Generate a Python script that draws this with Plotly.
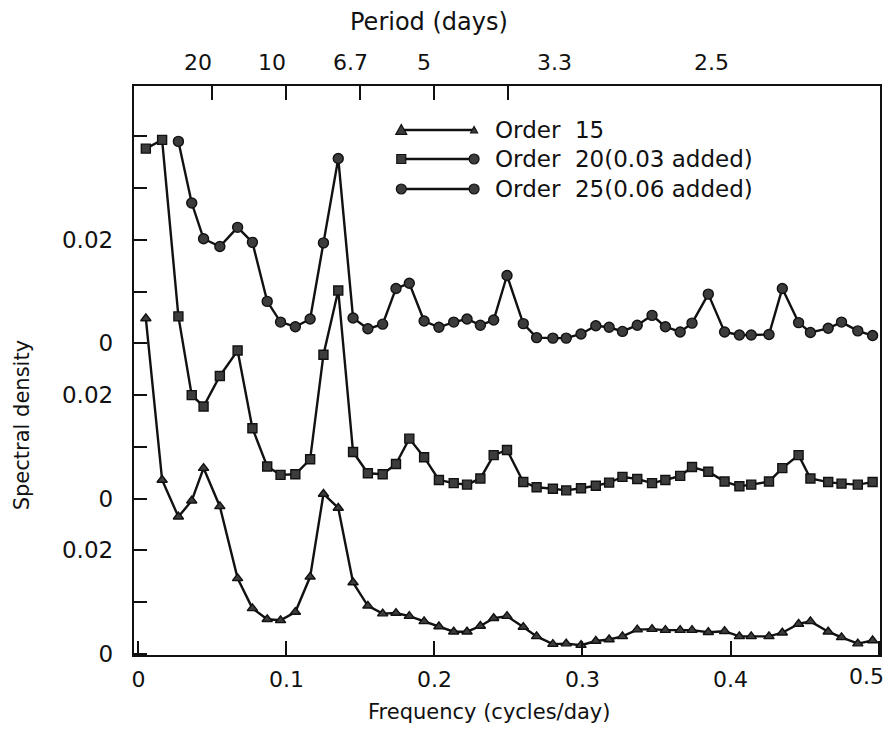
import plotly.graph_objects as go

# ---- data ----
freq = [0.005, 0.016, 0.027, 0.036, 0.044, 0.055, 0.067, 0.077, 0.087, 0.096,
        0.106, 0.116, 0.125, 0.135, 0.145, 0.155, 0.165, 0.174, 0.183, 0.193,
        0.203, 0.213, 0.222, 0.231, 0.240, 0.249, 0.260, 0.269, 0.280, 0.289,
        0.299, 0.309, 0.318, 0.327, 0.337, 0.347, 0.356, 0.366, 0.374, 0.385,
        0.396, 0.406, 0.414, 0.426, 0.435, 0.446, 0.454, 0.466, 0.475, 0.486,
        0.496]

order15 = [0.0648, 0.0336, 0.0265, 0.0296, 0.0359, 0.0285, 0.0146, 0.0088, 0.0067, 0.0065,
           0.0081, 0.0149, 0.0309, 0.0282, 0.0138, 0.0093, 0.0078, 0.0079, 0.0073, 0.0063,
           0.0053, 0.0043, 0.0043, 0.0054, 0.0069, 0.0073, 0.0052, 0.0034, 0.0019, 0.0020,
           0.0017, 0.0025, 0.0028, 0.0034, 0.0047, 0.0048, 0.0046, 0.0046, 0.0046, 0.0042,
           0.0044, 0.0034, 0.0034, 0.0034, 0.0041, 0.0058, 0.0063, 0.0043, 0.0032, 0.0020,
           0.0026]

order20 = [0.0676, 0.0693, 0.0352, 0.0200, 0.0178, 0.0237, 0.0286, 0.0136, 0.0062, 0.0046,
           0.0047, 0.0076, 0.0278, 0.0402, 0.0090, 0.0049, 0.0047, 0.0067, 0.0116, 0.0080,
           0.0036, 0.0030, 0.0027, 0.0039, 0.0084, 0.0094, 0.0032, 0.0022, 0.0019, 0.0016,
           0.0020, 0.0025, 0.0031, 0.0042, 0.0038, 0.0030, 0.0036, 0.0044, 0.0061, 0.0052,
           0.0033, 0.0024, 0.0027, 0.0033, 0.0059, 0.0084, 0.0039, 0.0032, 0.0029, 0.0027,
           0.0032]

# order 25 starts at the third frequency
order25 = [0.0390, 0.0271, 0.0202, 0.0187, 0.0224, 0.0195, 0.0081, 0.0041, 0.0032, 0.0047,
           0.0194, 0.0357, 0.0049, 0.0028, 0.0037, 0.0106, 0.0116, 0.0043, 0.0031, 0.0041,
           0.0047, 0.0035, 0.0045, 0.0131, 0.0038, 0.0011, 0.0010, 0.0010, 0.0018, 0.0034,
           0.0031, 0.0023, 0.0035, 0.0054, 0.0032, 0.0022, 0.0039, 0.0095, 0.0022, 0.0016,
           0.0016, 0.0017, 0.0106, 0.0040, 0.0021, 0.0029, 0.0041, 0.0024, 0.0015]

offset20 = 0.03
offset25 = 0.06

series_names = ["Order\u00a0\u00a015", "Order\u00a0\u00a020(0.03 added)", "Order\u00a0\u00a025(0.06 added)"]

x_tickvals = [0, 0.1, 0.2, 0.3, 0.4, 0.5]
x_ticktext = ["0", "0.1", "0.2", "0.3", "0.4", ""]
x_last_label = "0.5"
y_tickvals = [0, 0.01, 0.02, 0.03, 0.04, 0.05, 0.06, 0.07, 0.08, 0.09, 0.10]
y_ticktext = ["0", "", "0.02", "0", "", "0.02", "0", "", "0.02", "", ""]

period_tick_freq = [0.05, 0.1, 0.15, 0.2, 0.25]
period_labels = ["20", "10", "6.7", "5", "3.3", "2.5"]
period_label_pos = [0.040, 0.090, 0.143, 0.193, 0.281, 0.387]

# ---- style ----
FONT = "DejaVu Sans"
INK = "#111111"
L, R, T, B = 134, 882, 86, 655
W, H = 894, 729


def px(x):
    return (x - L) / (R - L)


def py(y):
    return (B - y) / (B - T)


fig = go.Figure()

mk = dict(color="#3c3c3c", line=dict(color=INK, width=1.4))

fig.add_trace(go.Scatter(
    x=freq, y=order15, mode="lines+markers", name=series_names[0],
    line=dict(color=INK, width=2.4),
    marker=dict(symbol="triangle-up", size=9, **mk), showlegend=False))

fig.add_trace(go.Scatter(
    x=freq, y=[v + offset20 for v in order20], mode="lines+markers", name=series_names[1],
    line=dict(color=INK, width=2.4),
    marker=dict(symbol="square", size=9, **mk), showlegend=False))

fig.add_trace(go.Scatter(
    x=freq[2:], y=[v + offset25 for v in order25], mode="lines+markers", name=series_names[2],
    xaxis="x2",
    line=dict(color=INK, width=2.4),
    marker=dict(symbol="circle", size=10, **mk), showlegend=False))

shapes = []
annotations = []

# custom legend (line sample with end markers)
leg_rows = [130, 159, 189]
leg_x0, leg_x1, leg_text = 402, 475, 494
for i, yy in enumerate(leg_rows):
    shapes.append(dict(type="line", xref="paper", yref="paper",
                       x0=px(leg_x0), x1=px(leg_x1), y0=py(yy), y1=py(yy),
                       line=dict(color=INK, width=2.4)))
    annotations.append(dict(text=series_names[i], xref="paper", yref="paper",
                            x=px(leg_text), y=py(yy), xanchor="left", yanchor="middle",
                            showarrow=False, font=dict(family=FONT, size=23, color=INK)))


def tri(cx, cy, s):
    return dict(type="path", xref="paper", yref="paper",
                path=f"M {px(cx - s)},{py(cy + s * 0.8)} L {px(cx + s)},{py(cy + s * 0.8)} "
                     f"L {px(cx)},{py(cy - s)} Z",
                fillcolor="#3c3c3c", line=dict(color=INK, width=1.2))


def circ(cx, cy, r):
    return dict(type="circle", xref="paper", yref="paper",
                x0=px(cx - r), x1=px(cx + r), y0=py(cy + r), y1=py(cy - r),
                fillcolor="#3c3c3c", line=dict(color=INK, width=1.2))


def sq(cx, cy, r):
    return dict(type="rect", xref="paper", yref="paper",
                x0=px(cx - r), x1=px(cx + r), y0=py(cy + r), y1=py(cy - r),
                fillcolor="#3c3c3c", line=dict(color=INK, width=1.2))


shapes += [tri(leg_x0, leg_rows[0], 5.5), tri(leg_x1, leg_rows[0], 3.5),
           sq(leg_x0, leg_rows[1], 4.5), circ(leg_x1, leg_rows[1], 5),
           circ(leg_x0, leg_rows[2], 5), circ(leg_x1, leg_rows[2], 5)]

# period (top) labels
for lab, pos in zip(period_labels, period_label_pos):
    annotations.append(dict(text=lab, xref="x", yref="paper", x=pos, y=py(62),
                            xanchor="center", yanchor="middle", showarrow=False,
                            font=dict(family=FONT, size=22, color=INK)))

# last bottom tick label (sits slightly inside the right edge)
annotations.append(dict(text=x_last_label, xref="paper", yref="paper",
                        x=px(868), y=py(676), xanchor="center", yanchor="middle",
                        showarrow=False, font=dict(family=FONT, size=22, color=INK)))

annotations.append(dict(text="Period (days)", xref="paper", yref="paper",
                        x=px(430), y=py(22), xanchor="center", yanchor="middle",
                        showarrow=False, font=dict(family=FONT, size=24, color=INK)))
annotations.append(dict(text="Frequency (cycles/day)", xref="paper", yref="paper",
                        x=px(490), y=py(712), xanchor="center", yanchor="middle",
                        showarrow=False, font=dict(family=FONT, size=21, color=INK)))
annotations.append(dict(text="Spectral density", xref="paper", yref="paper",
                        x=px(22), y=py(425), xanchor="center", yanchor="middle",
                        textangle=-90, showarrow=False,
                        font=dict(family=FONT, size=21, color=INK)))

xr = [-0.003, 0.501]
yr = [-0.0002, 0.1097]

fig.update_layout(
    width=W, height=H,
    margin=dict(l=L, r=W - R, t=T, b=H - B, pad=0),
    paper_bgcolor="white", plot_bgcolor="white",
    font=dict(family=FONT, size=22, color=INK),
    xaxis=dict(range=xr, tickvals=x_tickvals, ticktext=x_ticktext,
               ticks="inside", ticklen=14, tickwidth=1.8, tickcolor=INK,
               showline=True, linecolor=INK, linewidth=2.4, mirror=True,
               showgrid=False, zeroline=False, ticklabelstandoff=3,
               tickfont=dict(family=FONT, size=22, color=INK)),
    xaxis2=dict(range=xr, overlaying="x", side="top", matches="x",
                tickvals=period_tick_freq, ticks="inside", ticklen=14,
                tickwidth=1.8, tickcolor=INK, showticklabels=False,
                showline=False, showgrid=False, zeroline=False),
    yaxis=dict(range=yr, tickvals=y_tickvals, ticktext=y_ticktext,
               ticks="inside", ticklen=13, tickwidth=1.8, tickcolor=INK,
               showline=True, linecolor=INK, linewidth=2.4, mirror=True,
               showgrid=False, zeroline=False, ticklabelstandoff=14,
               tickfont=dict(family=FONT, size=23, color=INK)),
    shapes=shapes,
    annotations=annotations,
)

fig.write_html("out.html")
